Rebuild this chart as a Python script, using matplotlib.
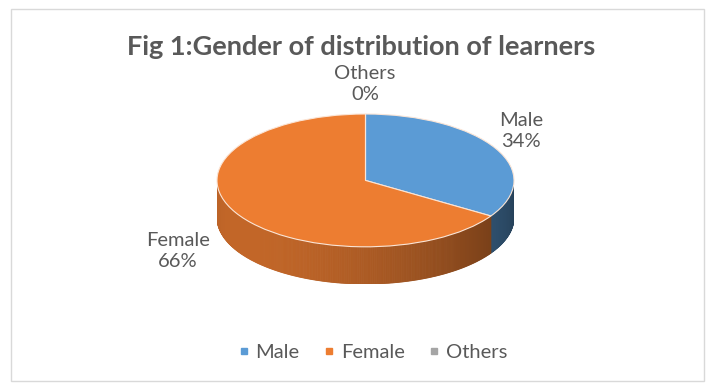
import numpy as np
import matplotlib.pyplot as plt
from matplotlib.lines import Line2D

plt.rcParams['font.family'] = ['Lato', 'DejaVu Sans']

labels = ['Male', 'Female', 'Others']
values = [34, 66, 0]
colors = ['#5B9BD5', '#ED7D31', '#A5A5A5']
title = 'Fig 1:Gender of distribution of learners'

W, H = 706, 383
fig = plt.figure(figsize=(W / 100, H / 100), dpi=100)

# background axes in pixel units, used for the frame and the text
bg = fig.add_axes([0, 0, 1, 1])
bg.set_xlim(0, W)
bg.set_ylim(H, 0)
bg.axis('off')
bg.add_patch(plt.Rectangle((11, 9), 693, 372, fill=False, ec='#d9d9d9', lw=1))
bg.text(361, 47, title, ha='center', va='center', fontsize=19.5,
        fontweight='bold', color='#595959')

# pie: unit circle squashed into an ellipse, with a wall underneath
depth = 0.56
px_left, px_right, px_top, px_bot = 217, 514, 114, 284
pie_ax = fig.add_axes([px_left / W, 1 - px_bot / H,
                       (px_right - px_left) / W, (px_bot - px_top) / H])
wedges, _ = pie_ax.pie(values, colors=colors, startangle=90, counterclock=False,
                       wedgeprops=dict(edgecolor='#fbe5d6', linewidth=0.8, zorder=3))
pie_ax.set_aspect('auto')
pie_ax.set_xlim(-1, 1)
pie_ax.set_ylim(-1 - depth, 1)
pie_ax.axis('off')

# side wall: shade each strip by its angle
fracs = np.array(values) / sum(values)
ends = 90 - 360 * np.cumsum(fracs)
starts = np.concatenate([[90], ends[:-1]])
for s, e, c in zip(starts, ends, colors):
    lo, hi = min(s, e), max(s, e)
    base = np.array(plt.matplotlib.colors.to_rgb(c))
    ts = np.linspace(lo, hi, max(int(hi - lo) * 2, 2))
    for t1, t2 in zip(ts[:-1], ts[1:]):
        tm = ((t1 + t2) / 2) % 360
        if not (180 <= tm <= 360):
            continue
        f = 0.6 + 0.22 * np.cos(np.radians(tm - 215))
        r1, r2 = np.radians(t1), np.radians(t2)
        xs = [np.cos(r1), np.cos(r2), np.cos(r2), np.cos(r1)]
        ys = [np.sin(r1), np.sin(r2), np.sin(r2) - depth, np.sin(r1) - depth]
        pie_ax.fill(xs, ys, color=base * f, lw=0.6, ec=base * f, zorder=1)

# data labels
lab_pos = {'Male': (521, 131), 'Female': (178, 251), 'Others': (365, 84)}
for name, v in zip(labels, values):
    x, y = lab_pos[name]
    bg.text(x, y, f'{name}\n{v}%', ha='center', va='center', fontsize=14.5,
            color='#595959', linespacing=1.25)

handles = [Line2D([], [], marker='s', ls='', color=c, markersize=5) for c in colors]
fig.legend(handles, labels, loc='center', bbox_to_anchor=(373 / W, 1 - 352 / H),
           ncol=3, frameon=False, fontsize=14.5, handlelength=0.5,
           handletextpad=0.35, columnspacing=1.2, labelcolor='#595959')

fig.savefig('out.png', dpi=100)
